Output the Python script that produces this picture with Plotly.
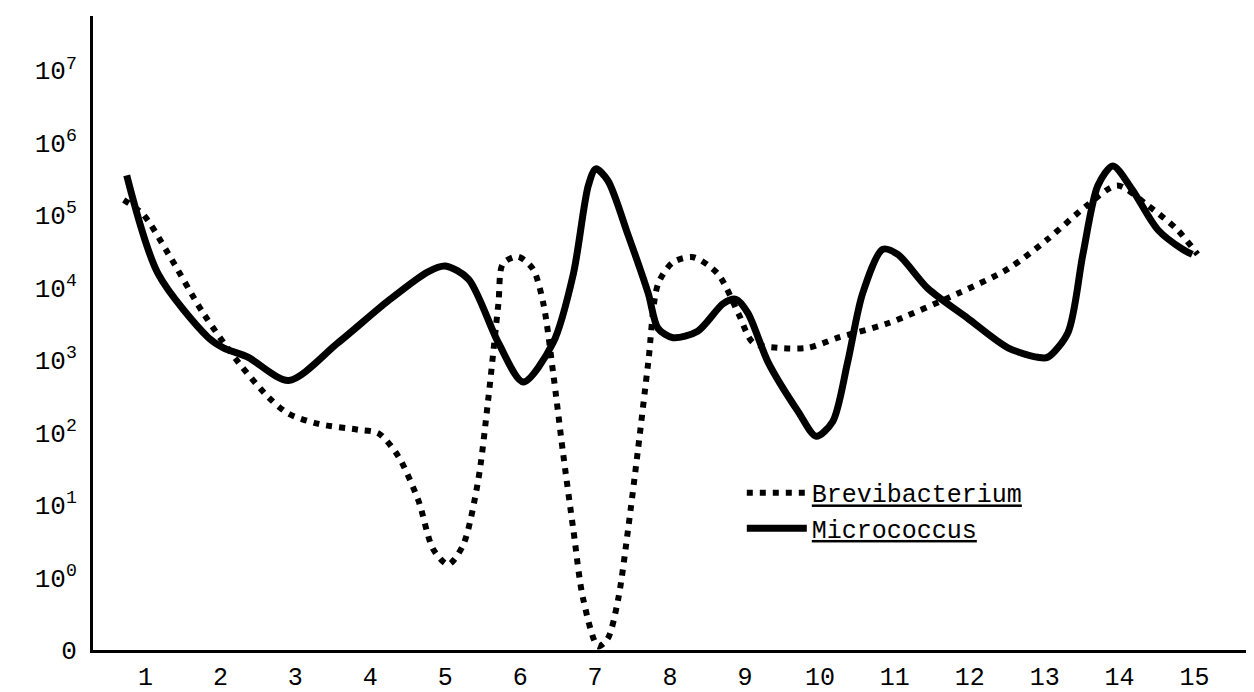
import plotly.graph_objects as go

# y values are log10 exponents; -1 stands for the "0" level at the bottom of the axis
x_ticks = list(range(1, 16))
x_tick_labels = [str(i) for i in x_ticks]
y_ticks = [-1, 0, 1, 2, 3, 4, 5, 6, 7]
y_tick_labels = ["0"] + [f"10<sup>{i}</sup>" for i in range(0, 8)]

micro_x = [0.75, 1.17, 1.84, 2.04, 2.37, 2.91, 3.57, 4.24, 4.77, 5.0, 5.31, 5.71, 6.04,
           6.44, 6.71, 6.91, 7.01, 7.17, 7.44, 7.71, 7.84, 8.04, 8.37, 8.71, 8.88, 9.04,
           9.31, 9.71, 9.95, 10.17, 10.37, 10.57, 10.84, 11.04, 11.44, 11.97, 12.51,
           12.91, 13.04, 13.31, 13.51, 13.71, 13.91, 14.17, 14.51, 14.84, 14.97]
micro_y = [5.55, 4.19, 3.31, 3.17, 3.04, 2.72, 3.24, 3.82, 4.22, 4.30, 4.12, 3.24, 2.70,
           3.24, 4.19, 5.41, 5.64, 5.48, 4.73, 3.92, 3.44, 3.31, 3.40, 3.78, 3.84, 3.65,
           2.97, 2.29, 1.95, 2.15, 2.97, 3.92, 4.53, 4.46, 3.99, 3.58, 3.17,
           3.04, 3.04, 3.38, 4.46, 5.41, 5.68, 5.35, 4.80, 4.53, 4.46]

brevi_x = [0.71, 0.97, 1.31, 1.77, 2.24, 2.64, 2.91, 3.31, 3.84, 4.11, 4.37, 4.64, 4.84,
           5.04, 5.24, 5.44, 5.57, 5.71, 5.77, 5.97, 6.17, 6.31, 6.44, 6.57, 6.71, 6.84,
           7.04, 7.17, 7.31, 7.44, 7.57, 7.71, 7.84, 8.04, 8.31, 8.64, 8.91, 9.11, 9.44,
           9.84, 10.24, 10.91, 11.84, 12.51, 13.04, 13.57, 13.97, 14.37, 14.77, 15.04]
brevi_y = [5.21, 5.01, 4.46, 3.65, 2.97, 2.49, 2.26, 2.12, 2.04, 1.99, 1.68, 1.07, 0.39,
           0.18, 0.45, 1.34, 2.42, 3.78, 4.33, 4.43, 4.26, 3.78, 2.83, 1.74, 0.66, -0.29,
           -0.95, -0.84, -0.29, 0.66, 1.74, 2.97, 4.05, 4.35, 4.42, 4.19, 3.65, 3.24, 3.17,
           3.17, 3.31, 3.51, 3.92, 4.26, 4.67, 5.14, 5.41, 5.14, 4.80, 4.46]

FONT = "Liberation Mono"

fig = go.Figure()
fig.add_trace(go.Scatter(
    x=brevi_x, y=brevi_y, mode="lines", name="<u>Brevibacterium</u>",
    line=dict(color="black", width=6, dash="6px,7px", shape="spline", smoothing=0.8),
))
fig.add_trace(go.Scatter(
    x=micro_x, y=micro_y, mode="lines", name="<u>Micrococcus</u>",
    line=dict(color="black", width=7, shape="spline", smoothing=0.8),
))

fig.update_layout(
    width=1254, height=692,
    margin=dict(l=85, r=0, t=8, b=50),
    paper_bgcolor="white", plot_bgcolor="white",
    font=dict(family=FONT, color="black", size=26),
    showlegend=True,
    legend=dict(
        x=0.555, y=0.284, xanchor="left", yanchor="top",
        bgcolor="rgba(0,0,0,0)", font=dict(family=FONT, size=25, color="black"),
        itemwidth=60, tracegroupgap=0,
    ),
    xaxis=dict(
        range=[0.3, 15.9], tickmode="array", tickvals=x_ticks, ticktext=x_tick_labels,
        showgrid=False, zeroline=False, showline=True, linecolor="black", linewidth=3,
        ticks="", ticklabelstandoff=2, tickfont=dict(family=FONT, size=25, color="black"),
    ),
    yaxis=dict(
        range=[-1, 7.75], tickmode="array", tickvals=y_ticks, ticktext=y_tick_labels,
        showgrid=False, zeroline=False, showline=True, linecolor="black", linewidth=3,
        ticks="", ticklabelstandoff=8, tickfont=dict(family=FONT, size=26, color="black"),
    ),
)

fig.write_html("out.html")
